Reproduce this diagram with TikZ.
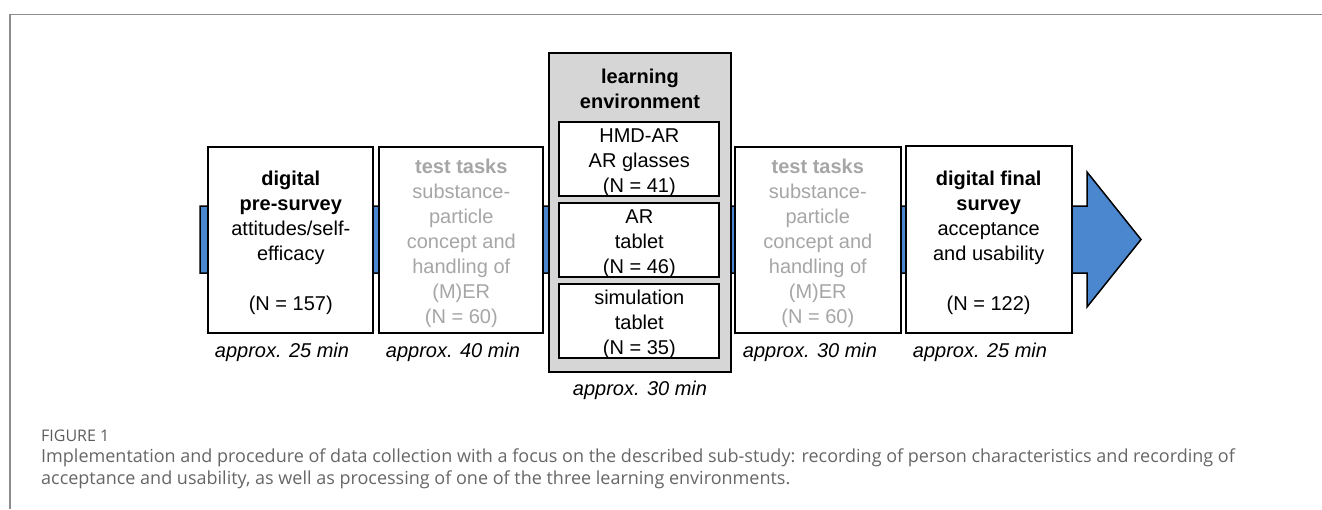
\documentclass[tikz,border=0pt]{standalone}
\usepackage{fontspec}
\setmainfont{Liberation Sans}
\newfontfamily\captionfont{Open Sans}
\definecolor{flowblue}{HTML}{4A87CF}
\definecolor{mutedtext}{HTML}{A6A6A6}
\definecolor{envgray}{HTML}{D6D6D6}
\definecolor{framegray}{HTML}{8C8C8C}
\definecolor{captiongray}{HTML}{666666}
\tikzset{
  stagebox/.style={draw=black, fill=white, line width=1.8pt, inner sep=0pt},
  envbox/.style={draw=black, fill=envgray, line width=1.8pt, inner sep=0pt},
  labeltext/.style={inner sep=0pt, align=center, font=\fontsize{20}{25}\selectfont},
  timetext/.style={inner sep=0pt, font=\fontsize{20}{25}\selectfont\itshape},
  captiontext/.style={inner sep=0pt, anchor=base west, text=captiongray},
}
\begin{document}
\begin{tikzpicture}[x=1pt, y=-1pt]
\useasboundingbox (0,0) rectangle (1322,509);

% figure frame
\draw[framegray, line width=1.5pt] (10,509) -- (10,14.5) -- (1322,14.5);

% process arrow behind the stages
\draw[fill=flowblue, line width=1.5pt, line join=miter]
  (200,206) -- (1087,206) -- (1087,172) -- (1141,239.5) -- (1087,307)
  -- (1087,273) -- (200,273) -- cycle;

% stage boxes
\node[stagebox, minimum width=165pt, minimum height=185.5pt] (pre) at (290.8,240) {};
\node[stagebox, minimum width=164pt, minimum height=185.5pt] (test1) at (461.3,240) {};
\node[envbox, minimum width=181.5pt, minimum height=319pt] (env) at (640,212.2) {};
\node[stagebox, minimum width=160pt, minimum height=74.3pt] (hmd) at (639.3,158.8) {};
\node[stagebox, minimum width=160pt, minimum height=74pt] (tab) at (639.3,239.7) {};
\node[stagebox, minimum width=160pt, minimum height=74.3pt] (sim) at (639.3,321.2) {};
\node[stagebox, minimum width=165.7pt, minimum height=185.5pt] (test2) at (817.8,240) {};
\node[stagebox, minimum width=166pt, minimum height=186.7pt] (post) at (988.7,239.4) {};

% stage texts
\node[labeltext] (pre-t) at (290.8,242.5)
  {\strut\textbf{digital}\\\textbf{pre-survey}\\attitudes/self-\\efficacy\\[25pt](N = 157)\strut};
\node[labeltext, text=mutedtext] (test1-t) at (461.3,243.7)
  {\strut\textbf{test tasks}\\substance-\\particle\\concept and\\handling of\\(M)ER\\(N = 60)\strut};
\node[labeltext] (env-t) at (640,91.2)
  {\strut\textbf{learning}\\\textbf{environment}\strut};
\node[labeltext] (hmd-t) at (639.3,162)
  {\strut HMD-AR\\AR glasses\\(N = 41)\strut};
\node[labeltext] (tab-t) at (639.3,243.7)
  {\strut AR\\tablet\\(N = 46)\strut};
\node[labeltext] (sim-t) at (639.3,324.5)
  {\strut simulation\\tablet\\(N = 35)\strut};
\node[labeltext, text=mutedtext] (test2-t) at (817.8,243.7)
  {\strut\textbf{test tasks}\\substance-\\particle\\concept and\\handling of\\(M)ER\\(N = 60)\strut};
\node[labeltext] (post-t) at (988.7,242.8)
  {\strut\textbf{digital final}\\\textbf{survey}\\acceptance\\and usability\\[25pt](N = 122)\strut};

% durations
\node[timetext] (pre-d) at (282,352) {\strut approx. 25 min};
\node[timetext] (test1-d) at (453,352) {\strut approx. 40 min};
\node[timetext] (env-d) at (640,390.3) {\strut approx. 30 min};
\node[timetext] (test2-d) at (810,352) {\strut approx. 30 min};
\node[timetext] (post-d) at (980,352.7) {\strut approx. 25 min};

% caption
\node[captiontext, font=\captionfont\fontsize{16}{18}\selectfont, text=captiongray!90!black] (cap-head) at (41,441) {FIGURE 1};
\node[captiontext, font=\captionfont\fontsize{18}{24}\selectfont] (cap-l1) at (41,462)
  {Implementation and procedure of data collection with a focus on the described sub-study: recording of person characteristics and recording of};
\node[captiontext, font=\captionfont\fontsize{18}{24}\selectfont] (cap-l2) at (41,484)
  {acceptance and usability, as well as processing of one of the three learning environments.};
\end{tikzpicture}
\end{document}
